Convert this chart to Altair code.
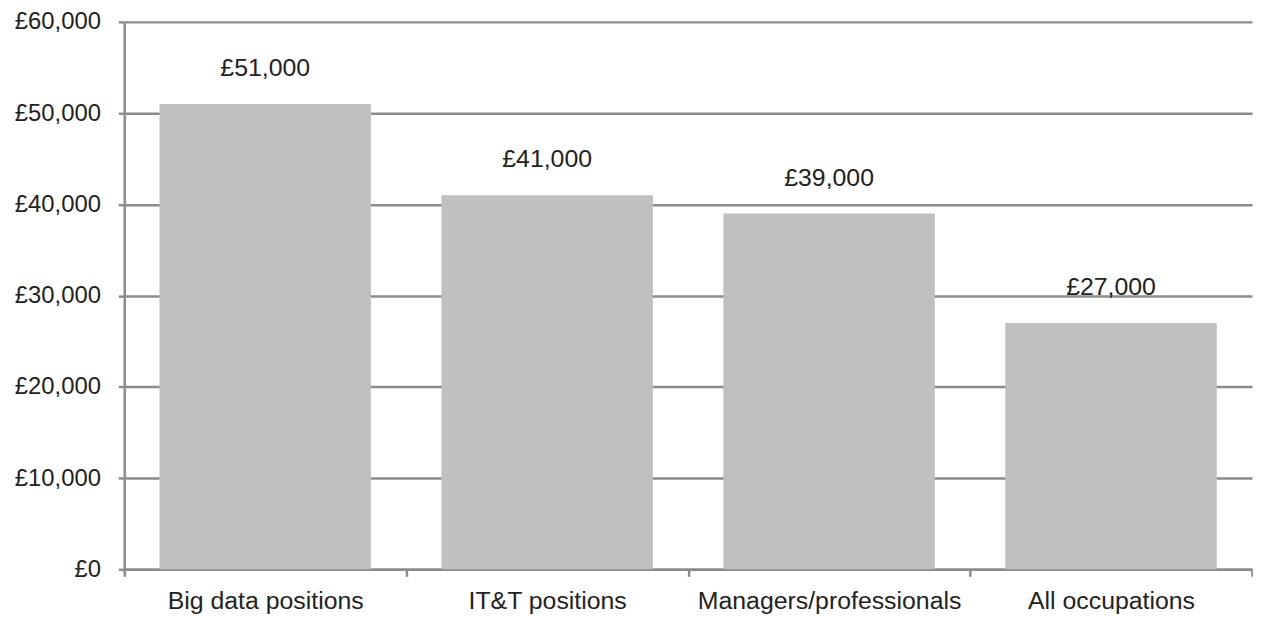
import altair as alt
import pandas as pd

categories = ["Big data positions", "IT&T positions", "Managers/professionals", "All occupations"]
salaries = [51000, 41000, 39000, 27000]
labels = ["£51,000", "£41,000", "£39,000", "£27,000"]

df = pd.DataFrame({"cat": categories, "val": salaries, "lab": labels})

FONT = "Liberation Sans"
GRID = "#8c8c8c"

x = alt.X("cat:N", sort=categories, title=None,
          scale=alt.Scale(paddingInner=0, paddingOuter=0),
          axis=alt.Axis(labelAngle=0, tickBand="extent", domainColor=GRID, domainWidth=2.5,
                        tickColor=GRID, tickWidth=2.5, tickSize=7, labelPadding=12,
                        labelLimit=0,
                        labelFont=FONT, labelFontSize=25, labelColor="#222222", grid=False))
y = alt.Y("val:Q", title=None,
          scale=alt.Scale(domain=[0, 60000], nice=False),
          axis=alt.Axis(values=[0, 10000, 20000, 30000, 40000, 50000, 60000],
                        labelExpr="'£' + format(datum.value, ',')",
                        domainColor=GRID, domainWidth=2.5, tickColor=GRID, tickWidth=2.5,
                        tickSize=6, labelPadding=18, labelFont=FONT, labelFontSize=24,
                        labelColor="#222222", grid=True, gridColor=GRID, gridWidth=2.5))

bars = alt.Chart(df).mark_bar(color="#c0c0c0", width={"band": 0.75}).encode(x=x, y=y)
text = alt.Chart(df).mark_text(dy=-36, font=FONT, fontSize=25, color="#222222").encode(
    x=alt.X("cat:N", sort=categories), y="val:Q", text="lab:N")

chart = (bars + text).properties(
    width=1135, height=551,
    autosize=alt.AutoSizeParams(type="none"),
    padding={"left": 117, "top": 12, "right": 1, "bottom": 48},
).configure_view(stroke=None)

chart.save("out.html", embed_options={"renderer": "svg", "actions": False})
